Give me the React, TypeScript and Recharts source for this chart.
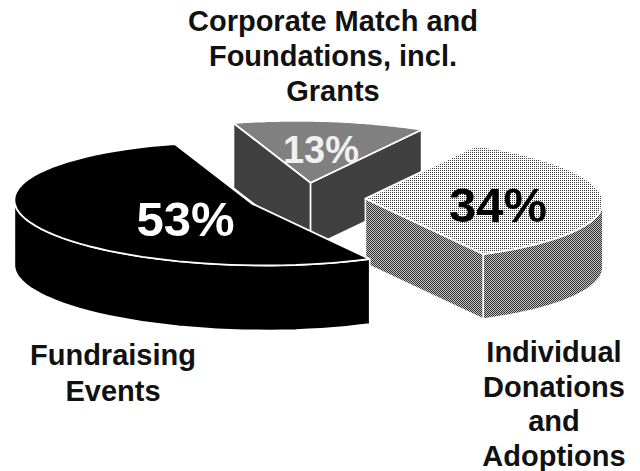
import { Pie, PieChart } from 'recharts';

const categories = ['Corporate Match', 'Individual Donations', 'Fundraising Events'];
const shares = [13, 34, 53];

const categoryLines: Record<string, string[]> = {
  'Corporate Match': ['Corporate Match and', 'Foundations, incl.', 'Grants'],
  'Individual Donations': ['Individual', 'Donations', 'and', 'Adoptions'],
  'Fundraising Events': ['Fundraising', 'Events'],
};

const tableData = categories.map((name, i) => ({ name, value: shares[i] }));

// look of each slice
const looks: Record<string, { top: string; side: string }> = {
  'Corporate Match': { top: '#808080', side: '#404040' },
  'Individual Donations': { top: 'url(#dotLight)', side: 'url(#dotMid)' },
  'Fundraising Events': { top: '#000000', side: '#000000' },
};

// where the texts go
const textSpots: Record<string, any> = {
  'Corporate Match': { x: 333, y: 31, step: 35, pctX: 321, pctY: 163, pctSize: 38, pctFill: '#f0f0f0' },
  'Individual Donations': { x: 554, y: 362, step: 34.5, pctX: 498, pctY: 222, pctSize: 49, pctFill: '#000000' },
  'Fundraising Events': { x: 113, y: 365, step: 36, pctX: 185.5, pctY: 236, pctSize: 49, pctFill: '#ffffff' },
};

const CX = 306;
const CY = 198;
const R = 100;
const EXPLODE = 0.25;
const DEPTH = 65;

const U = [111, -53];
const V = [210, 32];

function project(angle: number, radius: number) {
  const rad = (angle * Math.PI) / 180;
  const ex = (radius / R) * Math.cos(rad);
  const ey = -(radius / R) * Math.sin(rad);
  return [V[0] * ex - U[0] * ey, V[1] * ex - U[1] * ey];
}

function toPath(points: number[][]) {
  return points.map((p, i) => `${i ? 'L' : 'M'}${p[0].toFixed(1)},${p[1].toFixed(1)}`).join(' ') + ' Z';
}

function wall(points: number[][]) {
  return [...points, ...[...points].reverse().map((p) => [p[0], p[1] + DEPTH])];
}

function Slice3D(props: any) {
  const { startAngle, endAngle, midAngle, outerRadius, name } = props;
  const look = looks[name];
  const mid = midAngle ?? (startAngle + endAngle) / 2;
  const shift = project(mid, outerRadius * EXPLODE);
  const ox = CX + shift[0];
  const oy = CY + shift[1];
  const apex = [ox, oy];

  const arc: number[][] = [];
  const steps = 60;
  for (let i = 0; i <= steps; i++) {
    const p = project(startAngle + ((endAngle - startAngle) * i) / steps, outerRadius);
    arc.push([ox + p[0], oy + p[1]]);
  }

  // outline runs clockwise on screen, so an edge faces the viewer when it runs leftwards
  const frontArc = arc.filter((p, i) => (i < steps && arc[i + 1][0] < p[0]) || (i > 0 && p[0] < arc[i - 1][0]));
  const walls = [[apex, arc[0]], frontArc, [arc[steps], apex]].filter(
    (w) => w.length > 1 && w[w.length - 1][0] < w[0][0],
  );

  return (
    <g>
      {walls.map((w, i) => (
        <path key={i} d={toPath(wall(w))} fill={look.side} stroke="#ffffff" strokeWidth={1.6} strokeLinejoin="round" />
      ))}
      <path d={toPath([apex, ...arc])} fill={look.top} stroke="#ffffff" strokeWidth={1.8} strokeLinejoin="round" />
    </g>
  );
}

function SliceText(props: any) {
  const { name, value } = props;
  const spot = textSpots[name];
  return (
    <g fontFamily="'Liberation Sans', Arial, sans-serif" fontWeight="bold" textAnchor="middle">
      <text x={spot.pctX} y={spot.pctY} fontSize={spot.pctSize} fill={spot.pctFill}>
        {`${value}%`}
      </text>
      {categoryLines[name].map((line, i) => (
        <text key={line} x={spot.x} y={spot.y + i * spot.step} fontSize={29} fill="#111111">
          {line}
        </text>
      ))}
    </g>
  );
}

export default function App() {
  return (
    <div style={{ position: 'absolute', left: 0, top: 0, width: 640, height: 471, background: '#fff' }}>
      <PieChart width={640} height={471} margin={{ top: 0, right: 0, bottom: 0, left: 0 }}>
        <defs>
          <pattern id="dotLight" width="2" height="2" patternUnits="userSpaceOnUse">
            <rect width="2" height="2" fill="#ffffff" />
            <rect width="1" height="1" fill="#3c3c3c" />
          </pattern>
          <pattern id="dotMid" width="2" height="2" patternUnits="userSpaceOnUse">
            <rect width="2" height="2" fill="#c4c4c4" />
            <rect width="1" height="1" fill="#303030" />
            <rect x="1" y="1" width="1" height="1" fill="#303030" />
          </pattern>
        </defs>
        <Pie
          data={tableData}
          dataKey="value"
          nameKey="name"
          cx={CX}
          cy={CY}
          outerRadius={R}
          startAngle={136.8}
          endAngle={-223.2}
          paddingAngle={0}
          stroke="none"
          shape={Slice3D}
          label={SliceText}
          labelLine={false}
          isAnimationActive={false}
        />
      </PieChart>
    </div>
  );
}
